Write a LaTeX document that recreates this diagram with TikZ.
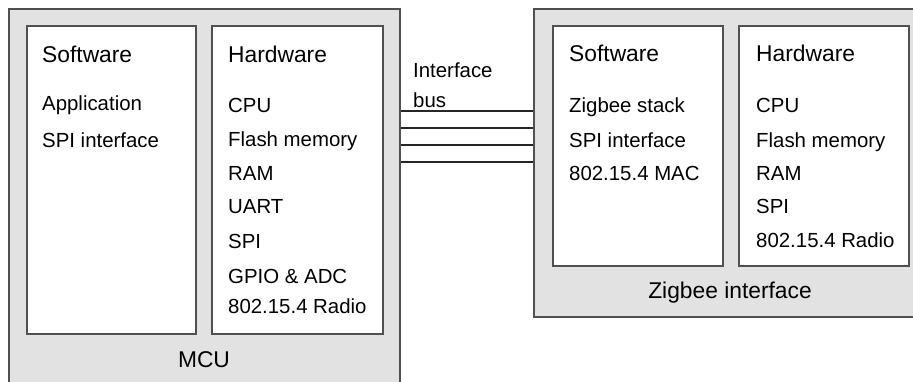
\documentclass[tikz,border=0pt]{standalone}
\usepackage{fontspec}
\setmainfont{Liberation Sans}
\definecolor{panelgray}{RGB}{226,226,226}
\definecolor{edgegray}{RGB}{80,80,80}
\tikzset{
  unit/.style={draw=edgegray, line width=1.8pt, fill=panelgray, anchor=north west, inner sep=0pt},
  part/.style={draw=edgegray, line width=1.8pt, fill=white, anchor=north west, inner sep=0pt},
  head/.style={anchor=base west, inner sep=0pt, font=\fontsize{22.8}{26}\selectfont},
  item/.style={anchor=base west, inner sep=0pt, font=\fontsize{20.4}{24}\selectfont},
  title/.style={anchor=base, inner sep=0pt, font=\fontsize{22.8}{26}\selectfont},
  wire/.style={line width=1.8pt, draw=black!85}
}
\begin{document}
\begin{tikzpicture}[x=1pt, y=-1pt]
  \useasboundingbox (0,0) rectangle (913,381);
  \fill[white] (0,0) rectangle (913,381);

  % MCU block
  \node[unit, minimum width=391pt, minimum height=390pt] (mcu) at (8,8) {};
  \node[part, minimum width=169pt, minimum height=308pt] (mcusw) at (26,25) {};
  \node[part, minimum width=171pt, minimum height=308pt] (mcuhw) at (211,25) {};
  \node[head] (mcuswt) at (42,62) {Software};
  \node[item] (app) at (42,110) {Application};
  \node[item] (spi1) at (42,147) {SPI interface};
  \node[head] (mcuhwt) at (228,62) {Hardware};
  \node[item] (cpu1) at (228,112) {CPU};
  \node[item] (fl1) at (228,146) {Flash memory};
  \node[item] (ram1) at (228,180) {RAM};
  \node[item] (uart) at (228,213) {UART};
  \node[item] (spi2) at (228,248) {SPI};
  \node[item] (gpio) at (228,283) {GPIO \& ADC};
  \node[item] (rad1) at (228,313) {802.15.4 Radio};
  \node[title] (mcut) at (204,367) {MCU};

  % Zigbee interface block
  \node[unit, minimum width=400pt, minimum height=308pt] (zig) at (533,8) {};
  \node[part, minimum width=170pt, minimum height=240pt] (zigsw) at (552,25) {};
  \node[part, minimum width=170pt, minimum height=240pt] (zighw) at (738,25) {};
  \node[head] (zigswt) at (569,61) {Software};
  \node[item] (stack) at (569,112) {Zigbee stack};
  \node[item] (spi3) at (569,147) {SPI interface};
  \node[item] (mac) at (569,180) {802.15.4 MAC};
  \node[head] (zighwt) at (756,61) {Hardware};
  \node[item] (cpu2) at (756,112) {CPU};
  \node[item] (fl2) at (756,147) {Flash memory};
  \node[item] (ram2) at (756,180) {RAM};
  \node[item] (spi4) at (756,213) {SPI};
  \node[item] (rad2) at (756,247) {802.15.4 Radio};
  \node[title] (zigt) at (730,298) {Zigbee interface};

  % Interface bus
  \node[item] (busl1) at (413,77) {Interface};
  \node[item] (busl2) at (413,107) {bus};
  \foreach \yy in {111,128,145,162} {
    \coordinate (b) at (0,\yy);
    \draw[wire] (mcu.east |- b) -- (zig.west |- b);
  }
\end{tikzpicture}
\end{document}
